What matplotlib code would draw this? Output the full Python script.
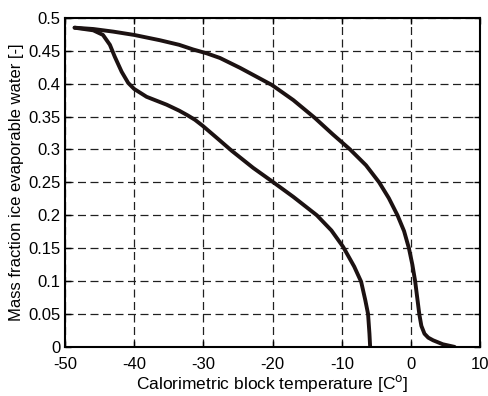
import matplotlib.pyplot as plt
import numpy as np

plt.rcParams['font.family'] = ['Liberation Sans', 'DejaVu Sans']

# curva externa (da direita)
upper_t = [-48.6, -45.9, -43.0, -40.0, -36.3, -33.5, -31.5, -29.5, -27.6, -24.7,
           -20.1, -17.0, -13.9, -11.3, -8.8, -6.5, -4.6, -3.2, -1.95, -1.0,
           -0.3, 0.2, 0.6, 0.9, 1.2, 1.5, 1.95, 2.5, 3.2, 4.6, 6.3]
upper_m = [0.485, 0.483, 0.479, 0.474, 0.466, 0.459, 0.452, 0.446, 0.439, 0.424,
           0.398, 0.375, 0.348, 0.323, 0.300, 0.276, 0.250, 0.226, 0.200, 0.176,
           0.150, 0.125, 0.100, 0.075, 0.050, 0.032, 0.020, 0.014, 0.010, 0.004, 0.0]

# curva interna (da esquerda)
lower_t = [-48.6, -45.9, -44.5, -43.5, -42.8, -41.8, -40.85, -40.0, -38.2, -35.3,
           -33.5, -32.3, -31.2, -30.1, -28.1, -25.9, -22.8, -20.0, -17.0, -13.6,
           -11.5, -9.8, -8.2, -7.2, -6.6, -6.2, -6.0, -5.9]
lower_m = [0.485, 0.481, 0.474, 0.459, 0.441, 0.418, 0.401, 0.392, 0.380, 0.368,
           0.359, 0.352, 0.345, 0.336, 0.318, 0.298, 0.272, 0.251, 0.228, 0.200,
           0.177, 0.152, 0.122, 0.099, 0.071, 0.050, 0.020, 0.0]

x_ticks = [-50, -40, -30, -20, -10, 0, 10]
y_ticks = [0, 0.05, 0.1, 0.15, 0.2, 0.25, 0.3, 0.35, 0.4, 0.45, 0.5]
y_labels = ['0', '0.05', '0.1', '0.15', '0.2', '0.25', '0.3', '0.35', '0.4', '0.45', '0.5']

fig = plt.figure(figsize=(4.88, 3.96), dpi=100)
ax = fig.add_axes([0.133, 0.124, 0.851, 0.831])

for t, m in [(upper_t, upper_m), (lower_t, lower_m)]:
    ax.plot(t, m, color='#1c1212', lw=2.8, solid_capstyle='round',
            solid_joinstyle='round')

ax.set_xlim(-50, 10)
ax.set_ylim(0, 0.5)
ax.set_xticks(x_ticks)
ax.set_xticklabels([str(v) for v in x_ticks])
ax.set_yticks(y_ticks)
ax.set_yticklabels(y_labels)

ax.grid(True, linestyle=(0, (6.4, 3.6)), color='#202020', lw=0.9)
ax.tick_params(direction='in', top=True, right=True, length=4, width=1,
               labelsize=12)
ax.tick_params(axis='x', pad=7)
ax.tick_params(axis='y', pad=3)
for s in ax.spines.values():
    s.set_linewidth(1.5)

ax.set_xlabel('Calorimetric block temperature [C$^{\\mathrm{o}}$]', fontsize=12.5, labelpad=1)
ax.set_ylabel('Mass fraction ice evaporable water [-]', fontsize=12, labelpad=3)

fig.savefig('out.png', dpi=100)
